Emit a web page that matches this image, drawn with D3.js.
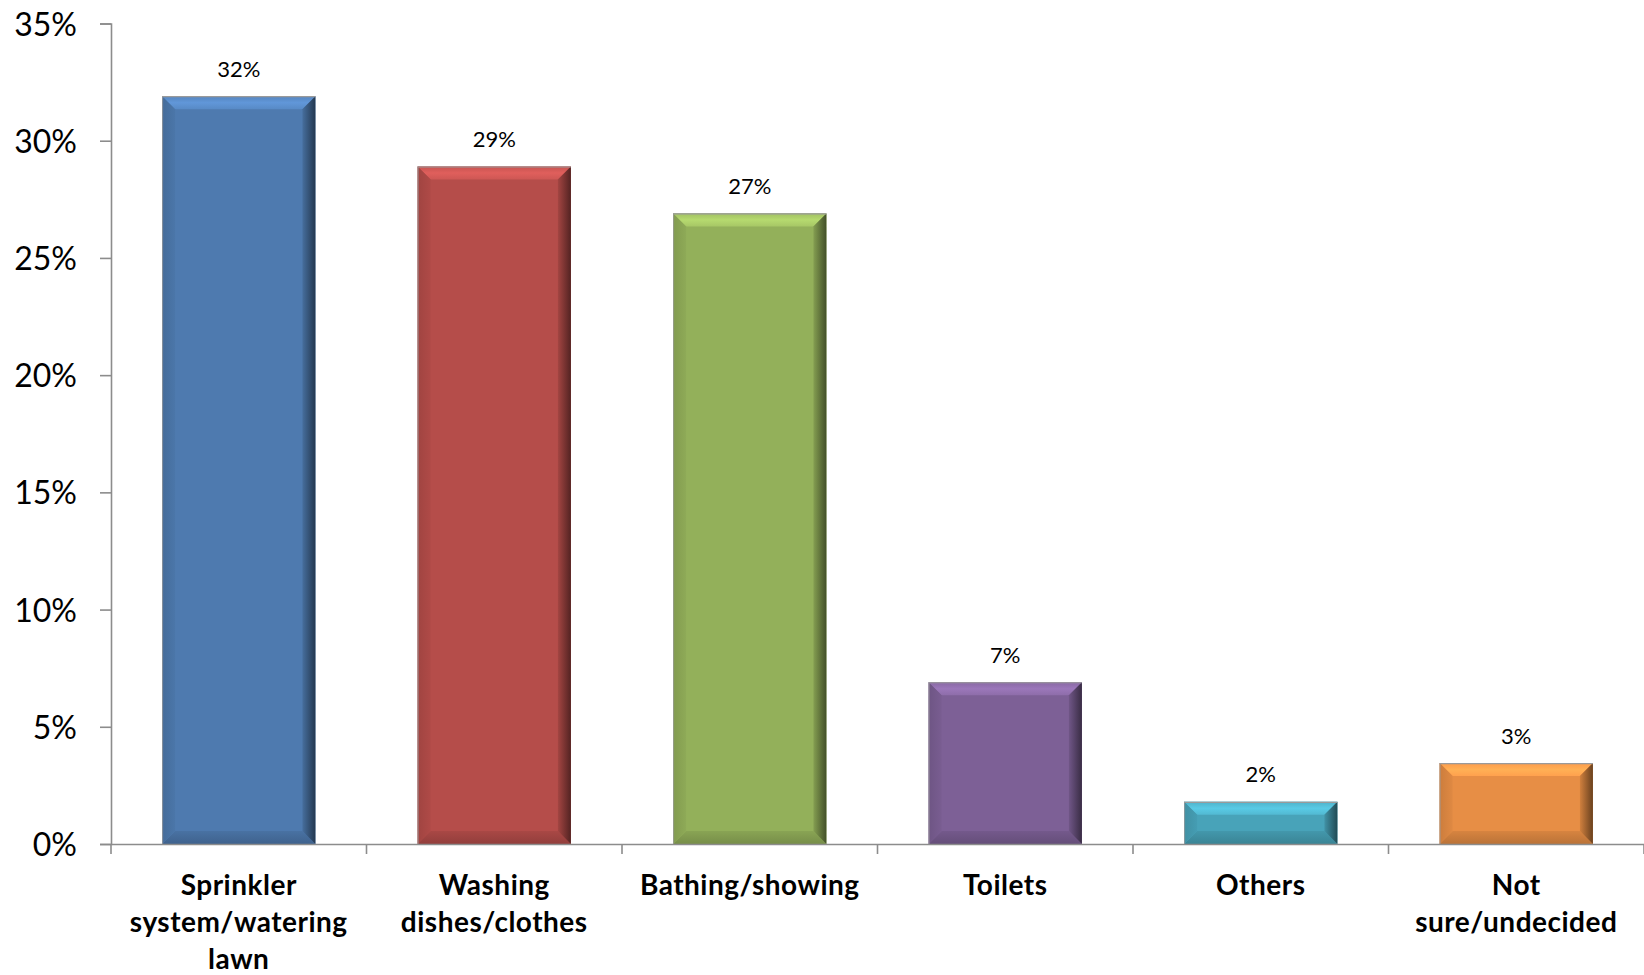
<!DOCTYPE html>
<html>
<head>
<meta charset="utf-8">
<script src="https://cdn.jsdelivr.net/npm/d3@7"></script>
<style>
html,body{margin:0;padding:0;background:#fff;}
svg{display:block;}
</style>
</head>
<body>
<svg id="chart" width="1644" height="975"></svg>
<script>
const categories = ["Sprinkler system/watering lawn", "Washing dishes/clothes", "Bathing/showing", "Toilets", "Others", "Not sure/undecided"];
const values = [0.319, 0.289, 0.269, 0.069, 0.018, 0.0345];
const colors = ["#4E7AAF", "#B54D4A", "#93B05A", "#7D6096", "#48A3B9", "#E78E45"];
const yTicks = [0, 0.05, 0.10, 0.15, 0.20, 0.25, 0.30, 0.35];

const W = 1644, H = 975;
const margin = {left: 111, right: 0, top: 23.5, bottom: 131};
const svg = d3.select("#chart");
const defs = svg.append("defs");

const x = d3.scaleBand().domain(categories).range([margin.left, W - margin.right]).paddingInner(0.4).paddingOuter(0.2);
const y = d3.scaleLinear().domain([0, 0.35]).range([H - margin.bottom, margin.top]);
const fmt = d3.format(".0%");
const font = "Lato, 'Open Sans', sans-serif";

// gradients per color
colors.forEach((c, i) => {
  const base = d3.color(c);
  const dark = d3.rgb(base).darker(2.2);
  const light = d3.rgb(base).brighter(0.6);
  const g1 = defs.append("linearGradient").attr("id", "right" + i).attr("x1", 0).attr("x2", 1).attr("y1", 0).attr("y2", 0);
  g1.append("stop").attr("offset", "0%").attr("stop-color", d3.rgb(base).darker(0.3));
  g1.append("stop").attr("offset", "100%").attr("stop-color", dark);
  const g2 = defs.append("linearGradient").attr("id", "top" + i).attr("x1", 0).attr("x2", 0).attr("y1", 0).attr("y2", 1);
  g2.append("stop").attr("offset", "0%").attr("stop-color", d3.rgb(base).brighter(0.25));
  g2.append("stop").attr("offset", "50%").attr("stop-color", light);
  g2.append("stop").attr("offset", "100%").attr("stop-color", d3.rgb(base).brighter(0.35));
  const g3 = defs.append("linearGradient").attr("id", "left" + i).attr("x1", 0).attr("x2", 1).attr("y1", 0).attr("y2", 0);
  g3.append("stop").attr("offset", "0%").attr("stop-color", d3.rgb(base).darker(0.35));
  g3.append("stop").attr("offset", "100%").attr("stop-color", d3.rgb(base).darker(0.1));
  const g4 = defs.append("linearGradient").attr("id", "bot" + i).attr("x1", 0).attr("x2", 0).attr("y1", 0).attr("y2", 1);
  g4.append("stop").attr("offset", "0%").attr("stop-color", d3.rgb(base).darker(0.2));
  g4.append("stop").attr("offset", "100%").attr("stop-color", d3.rgb(base).darker(0.6));
});

// y axis
const yAxis = d3.axisLeft(y).tickValues(yTicks).tickFormat(d3.format(".0%")).tickSize(11).tickPadding(23);
const gy = svg.append("g").attr("transform", `translate(${margin.left},0)`).call(yAxis);
gy.select(".domain").attr("stroke", "#8C8C8C").attr("stroke-width", 1.6);
gy.selectAll(".tick line").attr("stroke", "#8C8C8C").attr("stroke-width", 1.6);
gy.selectAll(".tick text").attr("font-family", font).attr("font-size", 32).attr("fill", "#000").attr("dy", "0.36em");

// bars
const bars = svg.append("g");
categories.forEach((cat, i) => {
  const x0 = x(cat), x1 = x0 + x.bandwidth();
  const y0 = y(values[i]), y1 = y(0);
  const h = y1 - y0;
  const b = Math.min(13, h / 2);
  const g = bars.append("g");
  g.append("rect").attr("x", x0).attr("y", y0).attr("width", x1 - x0).attr("height", h).attr("fill", colors[i]);
  const poly = pts => pts.map(p => p.join(",")).join(" ");
  g.append("polygon").attr("points", poly([[x0, y0], [x1, y0], [x1 - b, y0 + b], [x0 + b, y0 + b]])).attr("fill", `url(#top${i})`);
  g.append("polygon").attr("points", poly([[x0, y1], [x1, y1], [x1 - b, y1 - b], [x0 + b, y1 - b]])).attr("fill", `url(#bot${i})`);
  g.append("polygon").attr("points", poly([[x0, y0], [x0 + b, y0 + b], [x0 + b, y1 - b], [x0, y1]])).attr("fill", `url(#left${i})`);
  g.append("polygon").attr("points", poly([[x1, y0], [x1 - b, y0 + b], [x1 - b, y1 - b], [x1, y1]])).attr("fill", `url(#right${i})`);
  g.append("line").attr("x1", x0).attr("x2", x1).attr("y1", y0 + 0.5).attr("y2", y0 + 0.5).attr("stroke", "#9a9a9a").attr("stroke-width", 1.2);
  g.append("line").attr("x1", x0 + 0.5).attr("x2", x0 + 0.5).attr("y1", y0).attr("y2", y1).attr("stroke", "#9a9a9a").attr("stroke-width", 0.8);
  // label
  svg.append("text").attr("x", x0 + x.bandwidth() / 2).attr("y", y0 - 19.5)
    .attr("text-anchor", "middle").attr("font-family", font).attr("font-size", 22).attr("fill", "#000")
    .text(fmt(values[i]));
});

// x axis
const xAxis = d3.axisBottom(x).tickSize(0).tickFormat("");
const gx = svg.append("g").attr("transform", `translate(0,${y(0)})`).call(xAxis);
gx.select(".domain").attr("stroke", "#8C8C8C").attr("stroke-width", 1.6);
// category boundary ticks
const step = x.step();
const bounds = d3.range(categories.length + 1).map(k => margin.left + k * (W - margin.right - margin.left) / categories.length);
gx.selectAll(".btick").data(bounds).enter().append("line")
  .attr("x1", d => d).attr("x2", d => d).attr("y1", 0).attr("y2", 10)
  .attr("stroke", "#8C8C8C").attr("stroke-width", 1.6);

// category labels with wrapping
const labG = svg.append("g");
categories.forEach(cat => {
  const cx = x(cat) + x.bandwidth() / 2;
  const t = labG.append("text").attr("x", cx).attr("y", y(0) + 50.5)
    .attr("text-anchor", "middle").attr("font-family", font).attr("font-weight", "bold")
    .attr("font-size", 28).attr("letter-spacing", 0.5).attr("fill", "#000");
  const words = cat.split(" ");
  let lines = [], cur = [];
  const maxW = step - 14;
  const probe = t.append("tspan");
  words.forEach(w => {
    const test = cur.concat([w]).join(" ");
    probe.text(test);
    if (probe.node().getComputedTextLength() > maxW && cur.length) {
      lines.push(cur.join(" "));
      cur = [w];
    } else cur.push(w);
  });
  if (cur.length) lines.push(cur.join(" "));
  probe.remove();
  lines.forEach((ln, k) => {
    t.append("tspan").attr("x", cx).attr("dy", k === 0 ? 0 : 37).text(ln);
  });
});
</script>
</body>
</html>
